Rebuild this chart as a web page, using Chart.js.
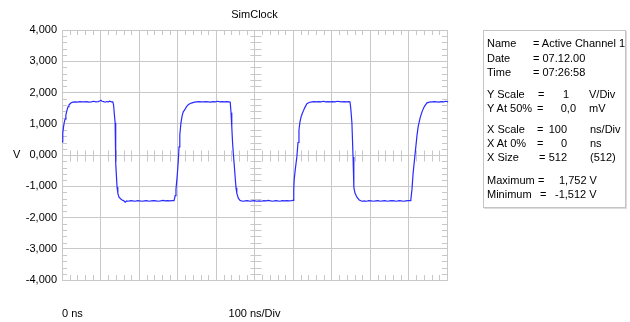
<!DOCTYPE html>
<html>
<head>
<meta charset="utf-8">
<script src="https://cdn.jsdelivr.net/npm/chart.js@4.4.1/dist/chart.umd.min.js"></script>
<style>
  html, body { margin: 0; padding: 0; background: #fff; }
  #wrap { position: relative; width: 630px; height: 322px; overflow: hidden; }
  #c { position: absolute; left: 0; top: 0; }
  #info { position: absolute; left: 483px; top: 30px; width: 141px; height: 176px;
          border: 1px solid #c4c4c4; box-shadow: 1px 1px 0 #dcdcdc;
          font-family: "Liberation Sans", Arial, sans-serif; font-size: 11px; color: #000; }
  #info span { position: absolute; white-space: pre; line-height: 13px; }
  #info span.r { transform: translateX(-100%); }
</style>
</head>
<body>
<div id="wrap">
  <canvas id="c" width="630" height="322"></canvas>
  <div id="info"></div>
</div>
<script>
// ---- data (time in ns, amplitude in V) ----
const chartTitle = 'SimClock';
const xUnitLabels = ['0 ns', '100 ns/Div'];
const yAxisLabel = 'V';

const timeNs = [
  0, 2, 4, 6, 8, 10, 12, 14, 16, 18, 21, 24, 28,
  34, 40, 46, 52, 58, 64, 70, 76, 82, 88, 94, 98, 101, 104, 108, 112, 116, 120, 124, 128, 132,
  134, 136, 138, 139, 140, 141.5, 143, 145, 148, 152, 156, 160,
  164, 168, 172, 178, 184, 190, 196, 202, 208, 214, 220, 226, 232, 238, 244, 250, 256, 262, 268, 274, 280, 286, 291,
  294, 296, 299, 302, 304, 306, 309, 312, 315, 319, 323, 328, 333, 338, 344,
  350, 356, 362, 368, 374, 380, 386, 392, 398, 404, 410, 416, 422, 428, 434, 437,
  439, 441, 443, 445, 447, 450, 452, 454, 458, 462, 466,
  470, 476, 482, 488, 494, 500, 506, 512, 518, 524, 530, 536, 542, 548, 554, 560, 566, 572, 578, 584, 590, 596, 600,
  602, 603, 606, 610, 613, 615.5, 618, 621, 624, 626, 630, 636, 642, 649,
  655, 661, 667, 673, 679, 685, 691, 697, 703, 709, 715, 721, 727, 733, 739, 745, 748,
  750, 753, 756, 758, 761, 766, 772, 779,
  785, 791, 797, 803, 809, 815, 821, 827, 833, 839, 845, 851, 857, 863, 869, 875, 881, 887, 893, 899, 904, 906,
  909, 912, 916, 919, 922, 925, 930, 935, 941, 948, 954, 961,
  967, 973, 979, 985, 991, 997, 1003, 1009, 1015, 1022
];
const volts = [
  0.42, 0.70, 0.90, 1.05, 1.15, 1.28, 1.38, 1.48, 1.55, 1.60, 1.64, 1.67, 1.69,
  1.70, 1.69, 1.71, 1.70, 1.70, 1.71, 1.69, 1.70, 1.72, 1.70, 1.71, 1.73, 1.752, 1.72, 1.71, 1.69, 1.71, 1.70, 1.72, 1.70, 1.70,
  1.60, 1.30, 1.03, 0.40, -0.26, -0.70, -1.03, -1.22, -1.35, -1.40, -1.44, -1.46,
  -1.512, -1.47, -1.48, -1.46, -1.47, -1.48, -1.46, -1.47, -1.48, -1.47, -1.46, -1.48, -1.47, -1.46, -1.47, -1.48, -1.47, -1.45, -1.47, -1.46, -1.47, -1.46, -1.46,
  -1.30, -1.10, -0.70, -0.20, 0.26, 0.65, 1.03, 1.25, 1.38, 1.45, 1.54, 1.61, 1.65, 1.67, 1.69,
  1.70, 1.71, 1.70, 1.70, 1.71, 1.70, 1.69, 1.71, 1.70, 1.72, 1.70, 1.71, 1.70, 1.71, 1.70, 1.69,
  1.35, 0.90, 0.40, 0.05, -0.26, -0.75, -1.05, -1.22, -1.38, -1.45, -1.47,
  -1.48, -1.47, -1.46, -1.48, -1.47, -1.46, -1.48, -1.47, -1.48, -1.46, -1.47, -1.45, -1.47, -1.48, -1.46, -1.47, -1.48, -1.46, -1.47, -1.46, -1.47, -1.46, -1.45,
  -1.10, -0.80, -0.45, -0.06, 0.40, 0.80, 1.05, 1.22, 1.33, 1.38, 1.50, 1.64, 1.68, 1.70,
  1.71, 1.70, 1.71, 1.70, 1.72, 1.70, 1.71, 1.70, 1.71, 1.70, 1.72, 1.71, 1.70, 1.71, 1.70, 1.71, 1.70,
  1.50, 1.03, -0.06, -1.03, -1.22, -1.35, -1.44, -1.48,
  -1.47, -1.48, -1.46, -1.47, -1.48, -1.47, -1.46, -1.48, -1.47, -1.46, -1.48, -1.47, -1.46, -1.47, -1.48, -1.46, -1.47, -1.48, -1.47, -1.46, -1.46, -1.44,
  -1.10, -0.58, -0.10, 0.26, 0.62, 0.90, 1.18, 1.38, 1.55, 1.67, 1.69, 1.70,
  1.71, 1.70, 1.69, 1.71, 1.70, 1.72, 1.70, 1.71, 1.70, 1.70
];

// info panel rows: [text, x(px on page), centerY(px), right-aligned?]
const infoRows = [
  ['Name', 487, 43], ['= Active Channel 1', 533, 43],
  ['Date', 487, 58], ['= 07.12.00', 533, 58],
  ['Time', 487, 72], ['= 07:26:58', 533, 72],
  ['Y Scale', 487, 94], ['=', 538, 94], ['1', 569, 94, 1], ['V/Div', 589, 94],
  ['Y At 50%', 487, 108], ['=', 537, 108], ['0,0', 576, 108, 1], ['mV', 589, 108],
  ['X Scale', 487, 129], ['=', 537, 129], ['100', 567, 129, 1], ['ns/Div', 590, 129],
  ['X At 0%', 487, 143], ['=', 537, 143], ['0', 567, 143, 1], ['ns', 590, 143],
  ['X Size', 487, 157], ['=', 539, 157], ['512', 567, 157, 1], ['(512)', 590, 157],
  ['Maximum', 487, 180], ['=', 538, 180], ['1,752 V', 559, 180],
  ['Minimum', 487, 194], ['=', 540, 194], ['-1,512 V', 555, 194]
];

const info = document.getElementById('info');
infoRows.forEach(([t, x, y, r]) => {
  const s = document.createElement('span');
  s.textContent = t;
  if (r) s.className = 'r';
  s.style.left = (x - 484) + 'px';
  s.style.top = (y - 31 - 6.5) + 'px';
  info.appendChild(s);
});

const FONT = '"Liberation Sans", Arial, sans-serif';
const GRID = '#c8c8c8';

const scopePlugin = {
  id: 'scope',
  beforeDatasetsDraw(chart) {
    const { ctx, chartArea: a, scales: { x, y } } = chart;
    ctx.save();
    ctx.strokeStyle = GRID;
    ctx.lineWidth = 1;
    ctx.beginPath();
    const yc = Math.round(y.getPixelForValue(0)) + 0.5;
    const xc = Math.round(x.getPixelForValue(500)) + 0.5;
    for (let i = 1; i < 50; i++) {
      if (i % 5 === 0) continue;
      const px = Math.round(x.getPixelForValue(i * 20)) + 0.5;
      ctx.moveTo(px, a.top); ctx.lineTo(px, a.top + 5);
      ctx.moveTo(px, a.bottom); ctx.lineTo(px, a.bottom - 5);
      ctx.moveTo(px, yc - 5); ctx.lineTo(px, yc + 6);
    }
    for (let i = 1; i < 40; i++) {
      if (i % 5 === 0) continue;
      const py = Math.round(y.getPixelForValue(-4 + i * 0.2)) + 0.5;
      ctx.moveTo(a.left, py); ctx.lineTo(a.left + 5, py);
      ctx.moveTo(a.right, py); ctx.lineTo(a.right - 5, py);
      ctx.moveTo(xc - 5, py); ctx.lineTo(xc + 6, py);
    }
    ctx.stroke();
    ctx.restore();
  },
  afterDraw(chart) {
    const { ctx, scales: { x, y } } = chart;
    ctx.save();
    ctx.fillStyle = '#000';
    ctx.font = '11px ' + FONT;
    ctx.textBaseline = 'middle';
    ctx.textAlign = 'left';
    ctx.fillText(yAxisLabel, 13, y.getPixelForValue(0));
    ctx.fillText(xUnitLabels[0], x.getPixelForValue(0), 314);
    ctx.textAlign = 'center';
    ctx.fillText(xUnitLabels[1], x.getPixelForValue(500), 314);
    ctx.restore();
  }
};

new Chart(document.getElementById('c'), {
  type: 'line',
  data: {
    datasets: [{
      data: timeNs.map((t, i) => ({ x: t, y: volts[i] })),
      borderColor: '#2a2aff',
      borderWidth: 1.2,
      pointRadius: 0,
      tension: 0,
      clip: false
    }]
  },
  options: {
    responsive: false,
    animation: false,
    devicePixelRatio: 1,
    layout: { padding: { left: 0, right: 183, top: 0, bottom: 0 } },
    plugins: {
      legend: { display: false },
      tooltip: { enabled: false },
      title: {
        display: true, text: chartTitle, fullSize: false, color: '#000',
        font: { family: FONT, size: 11, weight: 'normal', lineHeight: 1.2 },
        padding: { top: 8, bottom: 8.8 }
      }
    },
    scales: {
      x: {
        type: 'linear', min: 0, max: 1000,
        ticks: { display: false, stepSize: 100 },
        grid: { color: GRID, drawTicks: false, lineWidth: 1 },
        border: { color: GRID },
        afterFit(s) { s.height = 42; }
      },
      y: {
        min: -4, max: 4,
        ticks: {
          stepSize: 1, padding: 5, color: '#000',
          font: { family: FONT, size: 11 },
          callback: v => v.toFixed(3).replace('.', ',')
        },
        grid: { color: GRID, drawTicks: false, lineWidth: 1 },
        border: { color: GRID },
        afterFit(s) { s.width = 62; }
      }
    }
  },
  plugins: [scopePlugin]
});
</script>
</body>
</html>
